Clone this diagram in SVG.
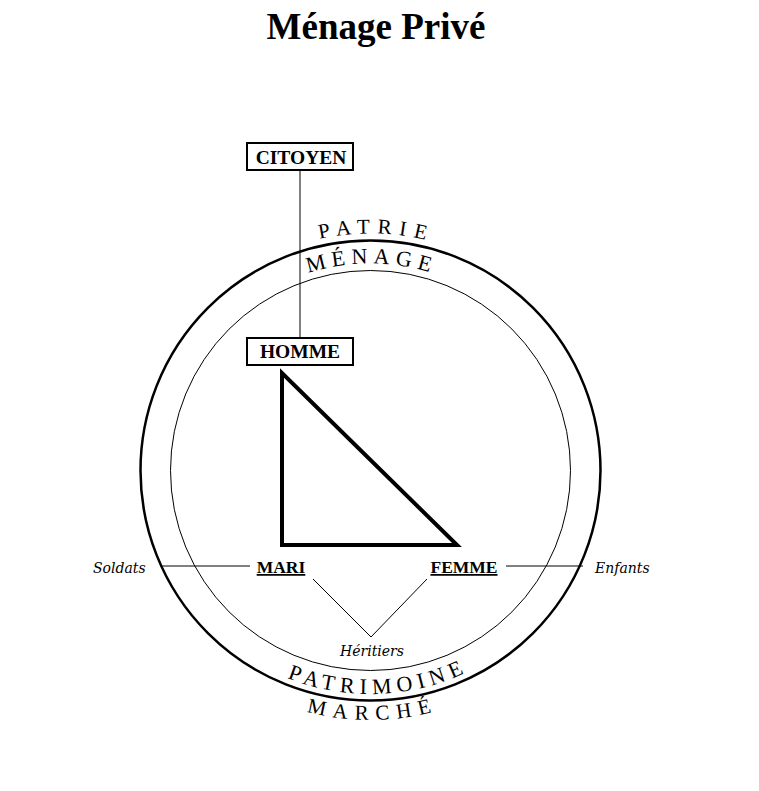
<svg xmlns="http://www.w3.org/2000/svg" width="759" height="791" viewBox="0 0 759 791">
<style>
.title{font-family:"Liberation Serif",serif;font-weight:bold;font-size:37px;fill:#000}
.box{fill:#fff;stroke:#000;stroke-width:2}
.boxtxt{font-family:"Liberation Serif",serif;font-weight:bold;font-size:19.5px;fill:#000;text-anchor:middle}
.role{font-family:"Liberation Serif",serif;font-weight:bold;font-size:17.5px;fill:#000;text-anchor:middle;text-decoration:underline}
.ital{font-family:"DejaVu Serif",serif;font-style:italic;font-size:14px;fill:#000}
.arc{font-family:"Liberation Serif",serif;fill:#000;text-anchor:middle}
.ln{stroke:#000;stroke-width:1;fill:none}
</style>
<defs>
<path id="pPatrie" d="M 133.5 470.5 A 237 237 0 0 1 607.5 470.5"/>
<path id="pMenage" d="M 163.5 470.5 A 207 207 0 0 1 577.5 470.5"/>
<path id="pPatrimoine" d="M 147 470.5 A 223.5 223.5 0 0 0 594 470.5"/>
<path id="pMarche" d="M 121 470.5 A 249.5 249.5 0 0 0 620 470.5"/>
</defs>
<rect width="759" height="791" fill="#fff"/>
<text class="title" x="376" y="39" text-anchor="middle">Ménage Privé</text>
<g id="circles">
<circle cx="370.5" cy="470.5" r="230" fill="none" stroke="#000" stroke-width="2.5"/>
<circle cx="370.5" cy="470.5" r="200" fill="none" stroke="#000" stroke-width="1"/>
</g>
<g id="arc-labels">
<text class="arc" font-size="21" letter-spacing="7.5"><textPath href="#pPatrie" startOffset="378">PATRIE</textPath></text>
<text class="arc" font-size="22" letter-spacing="5.8"><textPath href="#pMenage" startOffset="326">MÉNAGE</textPath></text>
<text class="arc" font-size="22" letter-spacing="5.7"><textPath href="#pPatrimoine" startOffset="359.4">PATRIMOINE</textPath></text>
<text class="arc" font-size="21" letter-spacing="7.4"><textPath href="#pMarche" startOffset="394.1">MARCHÉ</textPath></text>
</g>
<g id="connectors">
<line class="ln" x1="300" y1="170" x2="300" y2="338"/>
<line class="ln" x1="162" y1="566" x2="250" y2="566"/>
<line class="ln" x1="506" y1="566" x2="583" y2="566"/>
<polyline class="ln" points="313,579 371,637 427,579"/>
</g>
<g id="triangle">
<polygon points="282,373 282,545 457,545" fill="none" stroke="#000" stroke-width="4" stroke-linejoin="miter"/>
</g>
<g id="citoyen">
<rect class="box" x="247" y="143" width="106" height="27"/>
<text class="boxtxt" x="301" y="163.5">CITOYEN</text>
</g>
<g id="homme">
<rect class="box" x="247" y="338" width="106" height="27"/>
<text class="boxtxt" x="300" y="358">HOMME</text>
</g>
<g id="mari">
<text class="role" x="281" y="573">MARI</text>
</g>
<g id="femme">
<text class="role" x="464" y="573">FEMME</text>
</g>
<g id="soldats">
<text class="ital" x="93" y="573">Soldats</text>
</g>
<g id="enfants">
<text class="ital" x="595" y="573">Enfants</text>
</g>
<g id="heritiers">
<text class="ital" x="372" y="656" text-anchor="middle">Héritiers</text>
</g>
</svg>
